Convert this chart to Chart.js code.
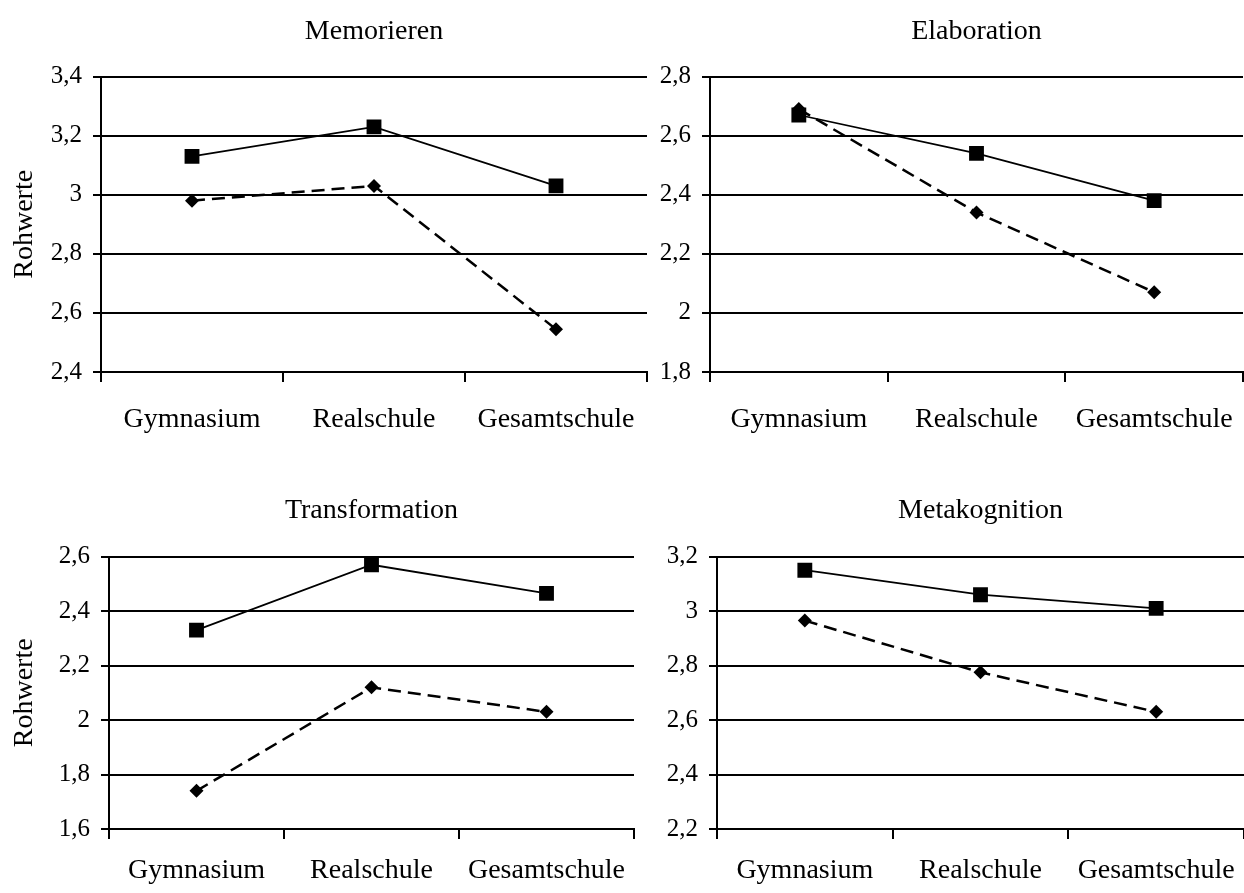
<!DOCTYPE html>
<html>
<head>
<meta charset="utf-8">
<script src="https://cdn.jsdelivr.net/npm/chart.js@4.4.1/dist/chart.umd.min.js"></script>
<style>
    body { margin: 0; background: #fff; width: 1244px; height: 893px; overflow: hidden; position: relative; }
    canvas { position: absolute; }
</style>
</head>
<body>
<canvas id="memorierenChart"></canvas>
<canvas id="elaborationChart"></canvas>
<canvas id="transformationChart"></canvas>
<canvas id="metakognitionChart"></canvas>

<script>
// Daten
const schulformen = ['Gymnasium', 'Realschule', 'Gesamtschule'];

const memorierenA = [3.13, 3.23, 3.03];
const memorierenB = [2.98, 3.03, 2.545];
const elaborationA = [2.67, 2.54, 2.38];
const elaborationB = [2.69, 2.34, 2.07];
const transformationA = [2.33, 2.57, 2.465];
const transformationB = [1.74, 2.12, 2.03];
const metakognitionA = [3.15, 3.06, 3.01];
const metakognitionB = [2.965, 2.775, 2.63];

const yMin = [2.4, 1.8, 1.6, 2.2];
const yMax = [3.4, 2.8, 2.6, 3.2];
const yStep = 0.2;

const FONT = "'Liberation Serif', 'Times New Roman', serif";

// Komma statt Punkt bei den Achsenwerten
const fmt = v => String(Number(v.toFixed(1))).replace('.', ',');

// Titel über der Plotfläche zentrieren (nicht über dem ganzen Canvas)
const centerTitleOnPlot = {
    id: 'centerTitleOnPlot',
    afterLayout(chart) {
        if (chart.titleBlock) {
            chart.titleBlock.left = chart.chartArea.left;
            chart.titleBlock.right = chart.chartArea.right;
        }
    }
};

function renderPanel(id, title, serieA, serieB, min, max, box) {
    const canvas = document.getElementById(id);
    canvas.width = box.w;
    canvas.height = box.h;
    canvas.style.left = box.x + 'px';
    canvas.style.top = box.y + 'px';

    new Chart(canvas.getContext('2d'), {
        type: 'line',
        data: {
            labels: schulformen,
            datasets: [{
                label: 'Serie A',
                data: serieA,
                borderColor: '#000',
                backgroundColor: '#000',
                borderWidth: 1.75,
                pointStyle: 'rect',
                pointRadius: 10.5,
                pointBorderWidth: 0
            }, {
                label: 'Serie B',
                data: serieB,
                borderColor: '#000',
                backgroundColor: '#000',
                borderWidth: 2.5,
                borderDash: [13, 7],
                pointStyle: 'rectRot',
                pointRadius: 7,
                pointBorderWidth: 0
            }]
        },
        plugins: [centerTitleOnPlot],
        options: {
            responsive: false,
            animation: false,
            devicePixelRatio: 1,
            layout: { autoPadding: false, padding: { right: box.padRight } },
            plugins: {
                legend: { display: false },
                tooltip: { enabled: false },
                title: {
                    display: true,
                    text: title,
                    color: '#000',
                    font: { family: FONT, size: 28, weight: 'normal' },
                    padding: { top: box.titleTop, bottom: box.titleBottom }
                }
            },
            scales: {
                x: {
                    offset: true,
                    grid: { offset: true, drawOnChartArea: false, drawTicks: true, tickLength: 10, color: '#000', lineWidth: 2 },
                    border: { display: true, color: '#000', width: 2 },
                    ticks: { color: '#000', padding: box.xPad, maxRotation: 0, font: { family: FONT, size: 28 } },
                    afterFit: s => {
                        s.height = box.xH;
                        // kein Extra-Rand für die äußeren Beschriftungen
                        s.paddingLeft = 0;
                        s.paddingRight = 0;
                    }
                },
                y: {
                    min: min,
                    max: max,
                    ticks: { stepSize: yStep, color: '#000', padding: 11, callback: fmt, font: { family: FONT, size: 25 } },
                    grid: { color: '#000', lineWidth: 2, tickLength: 8 },
                    border: { display: true, color: '#000', width: 2 },
                    title: {
                        display: box.yTitle,
                        text: 'Rohwerte',
                        color: '#000',
                        padding: { top: 8 },
                        font: { family: FONT, size: 28 }
                    },
                    afterFit: s => { s.width = box.yW; }
                }
            }
        }
    });
}

renderPanel('memorierenChart', 'Memorieren', memorierenA, memorierenB, yMin[0], yMax[0],
    { x: 0, y: 0, w: 660, h: 450, yW: 101, xH: 78, padRight: 13, titleTop: 15, titleBottom: 28, xPad: 21, yTitle: true });
renderPanel('elaborationChart', 'Elaboration', elaborationA, elaborationB, yMin[1], yMax[1],
    { x: 600, y: 0, w: 644, h: 450, yW: 110, xH: 78, padRight: 1, titleTop: 15, titleBottom: 28, xPad: 21, yTitle: false });
renderPanel('transformationChart', 'Transformation', transformationA, transformationB, yMin[2], yMax[2],
    { x: 0, y: 460, w: 650, h: 433, yW: 109, xH: 64, padRight: 16, titleTop: 34, titleBottom: 29, xPad: 15, yTitle: true });
renderPanel('metakognitionChart', 'Metakognition', metakognitionA, metakognitionB, yMin[3], yMax[3],
    { x: 600, y: 460, w: 644, h: 433, yW: 117, xH: 64, padRight: 0, titleTop: 34, titleBottom: 29, xPad: 15, yTitle: false });
</script>
</body>
</html>
